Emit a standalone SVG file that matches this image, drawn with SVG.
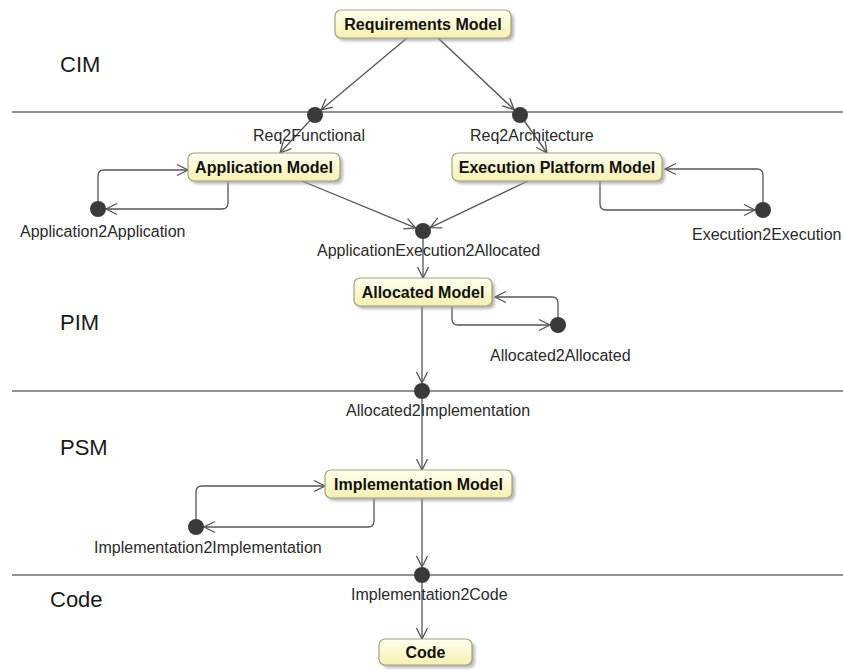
<svg xmlns="http://www.w3.org/2000/svg" width="843" height="670" viewBox="0 0 843 670">
  <defs>
    <linearGradient id="boxFill" x1="0" y1="0" x2="0" y2="1">
      <stop offset="0" stop-color="#fffff0"/>
      <stop offset="1" stop-color="#f6f0b2"/>
    </linearGradient>
    <filter id="shadow" x="-10%" y="-30%" width="130%" height="180%">
      <feGaussianBlur stdDeviation="1.5"/>
    </filter>
    <marker id="open" viewBox="-12 -7 14 14" refX="0" refY="0" markerWidth="14" markerHeight="14" markerUnits="userSpaceOnUse" orient="auto">
      <path d="M-11,-5.5 L0,0 L-11,5.5" fill="none" stroke="#555" stroke-width="1.3"/>
    </marker>
  </defs>
  <style>
    .lane { stroke: #6e6e6e; stroke-width: 1.6; }
    .stage { font-family: "Liberation Sans", Arial, sans-serif; font-size: 22px; fill: #1a1a1a; }
    .box { fill: url(#boxFill); stroke: #a6a27a; stroke-width: 1.2; }
    .shade { fill: #9a9a9a; opacity: 0.7; filter: url(#shadow); }
    .title { font-family: "Liberation Sans", Arial, sans-serif; font-size: 16px; font-weight: bold; fill: #111; text-anchor: middle; }
    .lbl { font-family: "Liberation Sans", Arial, sans-serif; font-size: 16px; fill: #2a2a2a; }
    .dot { fill: #3a3a3a; }
    .edge { fill: none; stroke: #555; stroke-width: 1.3; marker-end: url(#open); }
  </style>

  <rect width="843" height="670" fill="#fff"/>

  <!-- swimlane separators and level names -->
  <g id="lanes">
    <line class="lane" x1="12" y1="112" x2="843" y2="112"/>
    <line class="lane" x1="12" y1="391" x2="843" y2="391"/>
    <line class="lane" x1="12" y1="575" x2="843" y2="575"/>
    <text class="stage" x="60" y="72">CIM</text>
    <text class="stage" x="60" y="330">PIM</text>
    <text class="stage" x="60" y="455">PSM</text>
    <text class="stage" x="50" y="607">Code</text>
  </g>

  <!-- connectors -->
  <g id="connectors">
    <path class="edge" d="M407,38 L321,110"/>
    <path class="edge" d="M438,38 L514,109.5"/>
    <path class="edge" d="M315,115 L280,153"/>
    <path class="edge" d="M520,115 L547,153"/>
    <path class="edge" d="M302,181 L415.6,227.9"/>
    <path class="edge" d="M528,181 L430.2,227.6"/>
    <path class="edge" d="M423,231 L423,278"/>
    <path class="edge" d="M422,306 L422,383"/>
    <path class="edge" d="M422,391 L422,470"/>
    <path class="edge" d="M422,498 L422,567"/>
    <path class="edge" d="M422,575 L422,639"/>
    <!-- self loops -->
    <path class="edge" d="M228,181 V203 Q228,209 222,209 H106"/>
    <path class="edge" d="M98,209 V176 Q98,170 104,170 H188"/>
    <path class="edge" d="M600,181 V204 Q600,210 606,210 H755"/>
    <path class="edge" d="M763,210 V175 Q763,169 757,169 H665"/>
    <path class="edge" d="M452,306 V319 Q452,325 458,325 H550"/>
    <path class="edge" d="M558,325 V303 Q558,297 552,297 H495"/>
    <path class="edge" d="M374,498 V521 Q374,527 368,527 H204"/>
    <path class="edge" d="M196,527 V492 Q196,486 202,486 H325"/>
  </g>

  <!-- model nodes -->
  <g id="requirements-model">
    <rect class="shade" x="338" y="13" width="176" height="28" rx="6"/>
    <rect class="box" x="335" y="10" width="176" height="28" rx="6"/>
    <text class="title" x="423" y="30">Requirements Model</text>
  </g>
  <g id="application-model">
    <rect class="shade" x="191" y="156" width="152" height="28" rx="6"/>
    <rect class="box" x="188" y="153" width="152" height="28" rx="6"/>
    <text class="title" x="264" y="173">Application Model</text>
  </g>
  <g id="execution-platform-model">
    <rect class="shade" x="455" y="156" width="210" height="28" rx="6"/>
    <rect class="box" x="452" y="153" width="210" height="28" rx="6"/>
    <text class="title" x="557" y="173">Execution Platform Model</text>
  </g>
  <g id="allocated-model">
    <rect class="shade" x="357" y="281" width="138" height="28" rx="6"/>
    <rect class="box" x="354" y="278" width="138" height="28" rx="6"/>
    <text class="title" x="423" y="298">Allocated Model</text>
  </g>
  <g id="implementation-model">
    <rect class="shade" x="328" y="473" width="187" height="28" rx="6"/>
    <rect class="box" x="325" y="470" width="187" height="28" rx="6"/>
    <text class="title" x="418.5" y="490">Implementation Model</text>
  </g>
  <g id="code">
    <rect class="shade" x="382" y="642" width="93" height="26" rx="6"/>
    <rect class="box" x="379" y="639" width="93" height="26" rx="6"/>
    <text class="title" x="425.5" y="658">Code</text>
  </g>

  <!-- transformation nodes -->
  <g id="req2functional">
    <circle class="dot" cx="315" cy="115" r="8"/>
    <text class="lbl" x="253" y="141">Req2Functional</text>
  </g>
  <g id="req2architecture">
    <circle class="dot" cx="520" cy="115" r="8"/>
    <text class="lbl" x="470" y="141">Req2Architecture</text>
  </g>
  <g id="application2application">
    <circle class="dot" cx="98" cy="209" r="8"/>
    <text class="lbl" x="20" y="237">Application2Application</text>
  </g>
  <g id="execution2execution">
    <circle class="dot" cx="763" cy="210" r="8"/>
    <text class="lbl" x="692" y="240">Execution2Execution</text>
  </g>
  <g id="applicationexecution2allocated">
    <circle class="dot" cx="423" cy="231" r="8"/>
    <text class="lbl" x="317" y="256">ApplicationExecution2Allocated</text>
  </g>
  <g id="allocated2allocated">
    <circle class="dot" cx="558" cy="325" r="8"/>
    <text class="lbl" x="490" y="361">Allocated2Allocated</text>
  </g>
  <g id="allocated2implementation">
    <circle class="dot" cx="422" cy="391" r="8"/>
    <text class="lbl" x="346" y="416">Allocated2Implementation</text>
  </g>
  <g id="implementation2implementation">
    <circle class="dot" cx="196" cy="527" r="8"/>
    <text class="lbl" x="94" y="553">Implementation2Implementation</text>
  </g>
  <g id="implementation2code">
    <circle class="dot" cx="422" cy="575" r="8"/>
    <text class="lbl" x="351" y="600">Implementation2Code</text>
  </g>
</svg>
